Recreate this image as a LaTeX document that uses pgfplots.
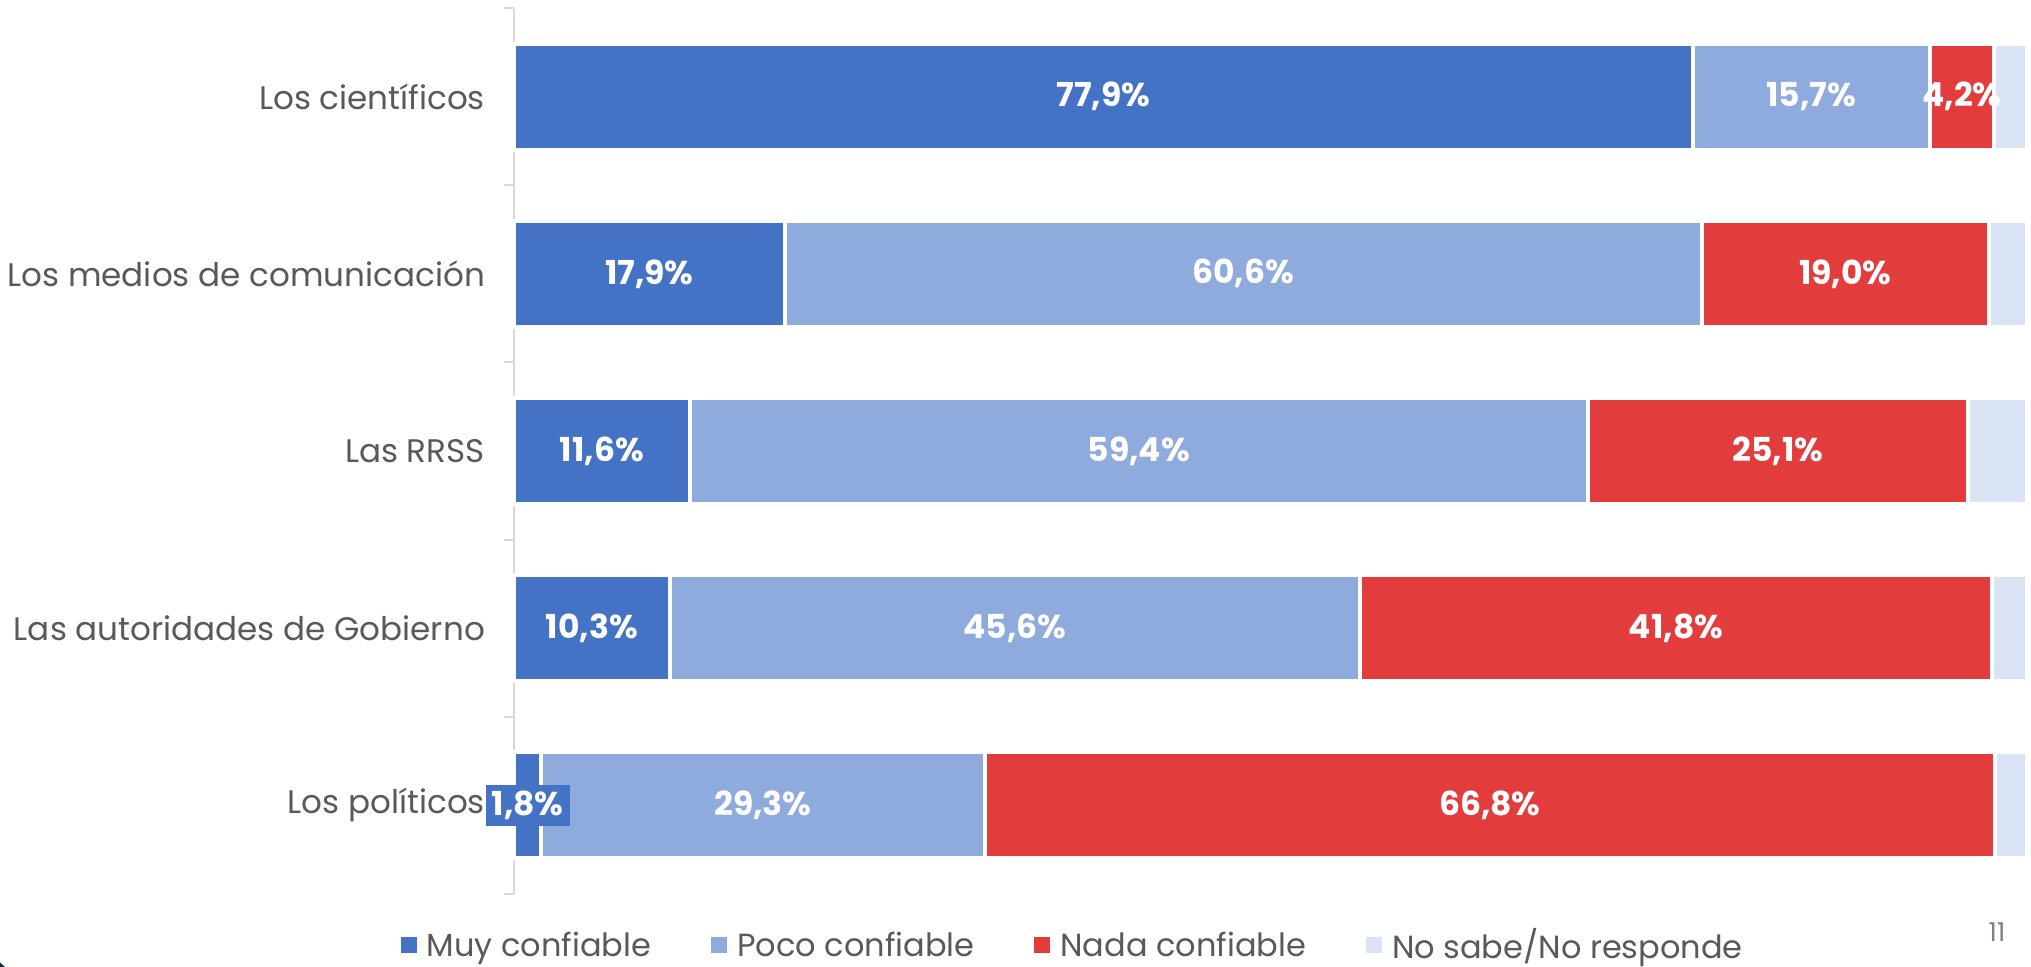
\documentclass[border=0pt]{standalone}
\usepackage{pgfplots}
\pgfplotsset{compat=1.18}
\usepackage{pgfplotstable}
\usepackage{fontspec}
\setmainfont{Poppins}
\definecolor{c1}{HTML}{4472C4}
\definecolor{c2}{HTML}{8FAADC}
\definecolor{c3}{HTML}{E33C3C}
\definecolor{c4}{HTML}{DAE3F3}
\definecolor{txt}{HTML}{595959}
\definecolor{axl}{HTML}{D9D9D9}
\definecolor{navy}{HTML}{0D2B45}
\pgfplotstableread{
cat muy poco nada ns lmuy lpoco lnada
0 77.9 15.7 4.2 2.2 77,9 15,7 4,2
1 17.9 60.6 19.0 2.5 17,9 60,6 19,0
2 11.6 59.4 25.1 3.9 11,6 59,4 25,1
3 10.3 45.6 41.8 2.3 10,3 45,6 41,8
4 1.8 29.3 66.8 2.1 1,8 29,3 66,8
}\data
\pgfplotsset{
  seglabel/.style={
    nodes near coords={\pgfplotspointmeta\%},
    point meta=explicit symbolic,
    every node near coord/.append style={
      font=\bfseries\fontsize{16.5}{18}\selectfont, text=white,
      anchor=center, inner sep=3pt}
  }
}
\begin{document}
\begin{tikzpicture}
\begin{axis}[
  at={(0,0)}, anchor=south west,
  scale only axis, width=756.5pt, height=443pt,
  xbar stacked, bar width=53pt,
  xmin=0, xmax=100, ymin=-0.5, ymax=4.5, y dir=reverse,
  axis x line=none, axis y line*=left,
  y axis line style={axl, line width=1pt, -},
  ytick={0,1,2,3,4},
  yticklabels={Los científicos, Los medios de comunicación, Las RRSS, Las autoridades de Gobierno, Los políticos},
  major tick length=0pt,
  minor ytick={-0.5,0.5,1.5,2.5,3.5,4.5},
  minor tick length=5pt, tick align=outside,
  minor tick style={axl, line width=1pt},
  yticklabel style={font=\fontsize{16.3}{18}\selectfont, text=txt, xshift=-11pt},
  clip=false,
  legend style={at={(0.37,-0.058)}, anchor=center, draw=none, fill=none,
    legend columns=4, font=\fontsize{16}{18}\selectfont, text=txt,
    /tikz/every even column/.append style={column sep=28pt}},
  legend cell align=left,
  legend image code/.code={\fill[#1, draw=none] (0pt,-4pt) rectangle (8pt,4pt); \path[draw=none] (0pt,0pt) -- (11pt,0pt);},
]
\addplot[fill=c1, draw=white, line width=2pt, seglabel, forget plot,
  every node near coord/.append style={fill=c1}]
  table[x=muy, y=cat, meta=lmuy]{\data};
\addplot[fill=c2, draw=white, line width=2pt, seglabel, forget plot]
  table[x=poco, y=cat, meta=lpoco]{\data};
\addplot[fill=c3, draw=white, line width=2pt, seglabel, forget plot]
  table[x=nada, y=cat, meta=lnada]{\data};
\addplot[fill=c4, draw=white, line width=2pt, forget plot]
  table[x=ns, y=cat]{\data};
\addlegendimage{fill=c1, draw=none}
\addlegendimage{fill=c2, draw=none}
\addlegendimage{fill=c3, draw=none}
\addlegendimage{fill=c4, draw=none}
\legend{Muy confiable, Poco confiable, Nada confiable, No sabe/No responde}
\end{axis}
\node[text=gray, font=\fontsize{13}{15}\selectfont] at (741.5pt,-19pt) {11};
\fill[navy] (-272pt,-53pt) circle (24pt);
\pgfresetboundingbox
\useasboundingbox (-257pt,-36.5pt) rectangle (758.5pt,447pt);
\end{tikzpicture}
\end{document}
